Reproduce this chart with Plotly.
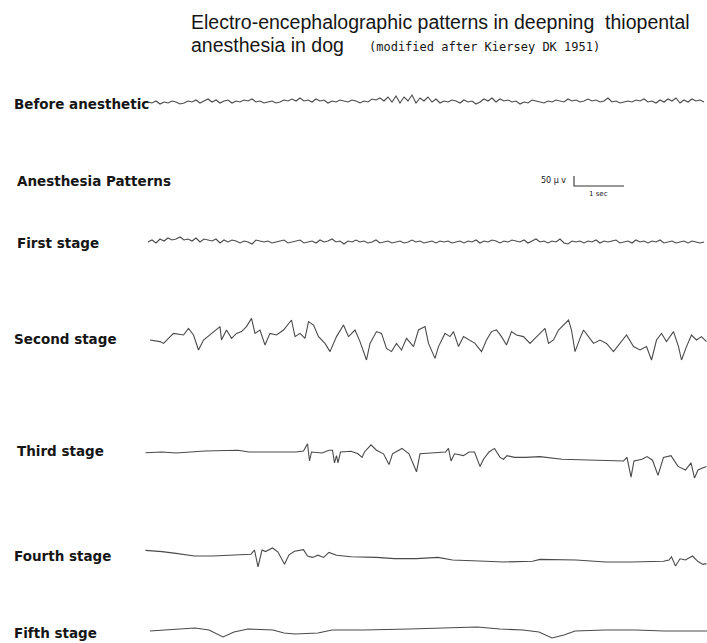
import numpy as np
import plotly.graph_objects as go

# ---------------- data (µV, seconds) ----------------
SAMPLE_DT = 0.08  # s, for the two fast traces

before_uv = [0, -5, 5, -10, 0, -5, 5, 0, -10, -5,
             5, 0, 10, -5, 5, 15, 0, 10, -5, 5,
             10, -5, 5, 0, 10, 5, 15, 0, 5, -5,
             0, 5, -5, 0, 10, 5, 15, 5, 20, 5,
             10, 0, 15, 5, 10, -5, 5, 0, 10, 5,
             0, 10, 5, -5, 5, 0, 15, 10, 20, 5,
             25, 0, 30, -5, 25, 5, 35, -5, 20, 5,
             25, 0, 15, -5, 5, 0, 10, 5, -5, 10,
             0, 5, -10, 0, 15, 5, 20, 0, 15, 5,
             10, 0, 5, -10, 0, -5, 10, 5, 0, -5,
             5, 0, 10, 5, 0, 15, 5, 10, 0, 5,
             15, 5, 10, 0, 5, 20, 0, 5, -5, 0,
             5, 0, 10, 5, 15, 0, 5, -5, 10, 0,
             15, 5, 20, -5, 10, 0, 15, 5, 10, 0]

first_uv = [0, 10, -5, 15, 5, 20, 10, 15, 25, 10,
            15, 5, 20, 0, 15, 10, 5, 15, -5, 10,
            0, 10, 5, -5, 5, 0, -10, 10, 5, 0,
            5, -5, 0, 5, 10, -5, 0, 5, 10, -5,
            0, 5, -5, 10, 0, 5, 15, 0, 5, -10,
            5, 0, 10, 0, 5, -5, 0, 10, -5, 0,
            5, -5, 0, 5, -5, 0, 10, 0, 5, -5,
            0, 5, -5, 5, 0, 5, -5, 0, 5, -5,
            5, 0, 10, -5, 5, 0, 10, 5, -5, 5,
            0, 10, 5, 0, 10, -5, 5, 15, 0, 5,
            -5, 5, 0, 15, -5, -10, 5, 0, 5, -5,
            5, 0, 10, -5, 5, 0, 5, 10, -5, 0,
            5, -5, 10, 0, 5, -5, 5, 0, 10, -5,
            0, 5, -5, 0, 5, -5, 5, 0, -5, 0]

second_t = [0.04, 0.24, 0.31, 0.51, 0.71, 0.81, 0.91, 1.01, 1.11, 1.24,
            1.44, 1.47, 1.57, 1.67, 1.77, 1.87, 1.97, 2.07, 2.14, 2.24,
            2.34, 2.44, 2.57, 2.71, 2.81, 2.87, 2.94, 3.04, 3.14, 3.21,
            3.31, 3.41, 3.54, 3.64, 3.77, 3.91, 4.01, 4.14, 4.24, 4.37,
            4.44, 4.57, 4.67, 4.77, 4.87, 4.97, 5.07, 5.17, 5.31, 5.41,
            5.54, 5.61, 5.74, 5.81, 5.94, 6.04, 6.11, 6.21, 6.31, 6.44,
            6.54, 6.67, 6.77, 6.87, 6.97, 7.07, 7.17, 7.27, 7.37, 7.51,
            7.64, 7.74, 7.84, 7.94, 8.01, 8.11, 8.21, 8.31, 8.41, 8.47,
            8.54, 8.64, 8.71, 8.81, 8.91, 9.04, 9.17, 9.31, 9.44, 9.57,
            9.71, 9.84, 9.97, 10.07, 10.17, 10.27, 10.37, 10.51, 10.61, 10.67,
            10.77, 10.87, 10.97, 11.07, 11.17]
second_uv = [0, -8, -17, 33, 25, 58, 25, -50, 0, 25,
             67, 0, 50, 8, 33, 42, 67, 108, 33, 50,
             -25, 33, 25, 50, 83, 100, 17, 33, 8, 92,
             75, 17, -17, -58, 17, 75, 17, 50, -8, -100,
             -17, 42, 33, -42, -58, -17, -50, 8, -33, 50,
             67, -17, -92, -33, 33, 17, 42, -33, 17, 0,
             -17, -58, 0, 42, 50, 17, -25, 42, 25, 17,
             -17, 8, 33, 58, -17, 0, 50, 75, 100, 50,
             -58, 8, 50, 17, -17, 0, -17, -58, -17, 25,
             -33, -50, -33, -100, 0, 33, -8, 42, -33, -100,
             -33, 25, 0, 17, -8]

third_t = [-0.05, 0.28, 0.56, 1.14, 1.80, 2.02, 2.96, 3.11, 3.19, 3.23,
           3.27, 3.48, 3.62, 3.69, 3.73, 3.77, 3.80, 3.85, 4.06, 4.20,
           4.28, 4.33, 4.46, 4.57, 4.71, 4.82, 4.89, 5.08, 5.22, 5.37,
           5.44, 5.66, 5.95, 6.01, 6.06, 6.13, 6.31, 6.42, 6.53, 6.64,
           6.71, 6.82, 6.93, 7.04, 7.11, 7.18, 7.33, 7.55, 7.84, 8.28,
           8.93, 9.51, 9.58, 9.66, 9.72, 9.88, 9.98, 10.09, 10.20, 10.31,
           10.46, 10.60, 10.75, 10.86, 10.93, 11.00, 11.08, 11.17]
third_uv = [-4, 0, -5, 5, 9, 0, 0, 5, 41, -45,
            0, -5, 9, 9, -54, -18, -54, 0, 4, -9,
            -27, 0, 36, 9, -9, -63, -9, 18, -9, -99,
            -9, -5, 0, 18, -45, -9, -18, 0, 0, -72,
            -36, 0, 18, -27, -36, -18, -27, -27, -23, -36,
            -41, -45, -27, -126, -45, -36, -23, -41, -117, -27,
            -18, -72, -90, -54, -130, -90, -81, -72]

fourth_t = [-0.05, 0.28, 0.56, 0.93, 1.29, 1.66, 2.06, 2.13, 2.20, 2.28,
            2.35, 2.49, 2.60, 2.73, 2.82, 2.93, 3.11, 3.19, 3.29, 3.40,
            3.51, 3.62, 3.77, 4.06, 4.57, 4.93, 5.37, 5.80, 6.09, 6.75,
            7.11, 7.69, 7.84, 8.56, 9.15, 9.66, 10.31, 10.42, 10.47, 10.55,
            10.64, 10.75, 10.89, 11.00, 11.10, 11.17]
fourth_uv = [28, 22, 13, 0, 0, 4, 9, 30, -54, 30,
             22, 40, 20, -41, 6, 24, 32, 0, -7, 4,
             -7, 18, 4, -4, -7, -13, -13, -7, -20, -26,
             -30, -26, -17, -20, -30, -30, -26, -20, -4, -50,
             -14, -20, 0, -28, -42, -38]

fifth_t = [0.04, 0.32, 0.58, 0.94, 1.22, 1.50, 1.72, 2.00, 2.50, 2.72,
           2.94, 3.40, 3.68, 4.32, 5.22, 6.14, 6.58, 7.04, 7.50, 7.82,
           8.08, 8.32, 8.54, 9.14, 9.76, 10.32, 10.76, 11.18]
fifth_uv = [0, 5, 10, 15, 5, -30, -5, 10, 5, -10,
            -15, -10, 5, 5, 10, 15, 20, 10, 5, -5,
            -35, -20, 0, 5, 5, 0, 0, 0]

labels = ["Before anesthetic", "First stage", "Second stage",
          "Third stage", "Fourth stage", "Fifth stage"]
SCALE_UV = 50
SCALE_S = 1

# ---------------- layout helpers ----------------
W, H = 707, 643
PX_PER_S = 50.0
T0_PX = 148
UV_PER_PX = 5.0

def py_to_uv(py):
    return -py * UV_PER_PX

traces = [
    (np.arange(len(before_uv)) * SAMPLE_DT, np.array(before_uv), 102),
    (np.arange(len(first_uv)) * SAMPLE_DT, np.array(first_uv), 242),
    (np.array(second_t), np.array(second_uv), 340),
    (np.array(third_t), np.array(third_uv), 452),
    (np.array(fourth_t), np.array(fourth_uv), 556),
    (np.array(fifth_t), np.array(fifth_uv), 631),
]
label_y = [104, 243, 339, 451, 556, 633]
label_x = [12, 15, 12, 15, 12, 12]

fig = go.Figure()
LINE = dict(color="#4a4a4a", width=1.1)
for (t, v, base) in traces:
    fig.add_trace(go.Scatter(x=t, y=v + py_to_uv(base), mode="lines",
                             line=LINE, hoverinfo="skip", showlegend=False))

# scale bar
sb_t = (574 - T0_PX) / PX_PER_S
sb_base = py_to_uv(186)
fig.add_trace(go.Scatter(
    x=[sb_t, sb_t, sb_t + SCALE_S],
    y=[sb_base + SCALE_UV, sb_base, sb_base],
    mode="lines", line=dict(color="#333", width=1.1),
    hoverinfo="skip", showlegend=False))

SANS = "Liberation Sans, Arial, sans-serif"
DJB = "DejaVu Sans, sans-serif"
ann = []
def txt(s, x, y, size, anchor="left", family=SANS, bold=False, color="#161616"):
    if bold:
        s = "<b>" + s + "</b>"
    ann.append(dict(text=s, x=x / W, y=1 - y / H, xref="paper", yref="paper",
                    xanchor=anchor, yanchor="middle", showarrow=False,
                    font=dict(family=family, size=size, color=color)))

txt("Electro-encephalographic patterns in deepning  thiopental", 189, 22, 19.5)
txt("anesthesia in dog", 189, 45, 19.5)
txt("(modified after Kiersey DK 1951)", 367, 47, 12, family="DejaVu Sans Mono, monospace")
for s, x, y in zip(labels, label_x, label_y):
    txt(s, x, y, 13.5, family=DJB, bold=True)
txt("Anesthesia Patterns", 15, 181, 13.5, family=DJB, bold=True)
txt("50 μ v", 568, 180, 8, anchor="right", family=DJB)
txt("1 sec", 598, 194, 7, anchor="center", family=DJB)

fig.update_layout(
    width=W, height=H, margin=dict(l=0, r=0, t=0, b=0),
    paper_bgcolor="white", plot_bgcolor="white",
    annotations=ann,
    xaxis=dict(range=[-T0_PX / PX_PER_S, (W - T0_PX) / PX_PER_S], visible=False, fixedrange=True),
    yaxis=dict(range=[py_to_uv(H), 0], visible=False, fixedrange=True),
)
fig.write_html("out.html", config={"displayModeBar": False},
               post_script="document.body.style.margin='0px';document.body.style.overflow='hidden';")
